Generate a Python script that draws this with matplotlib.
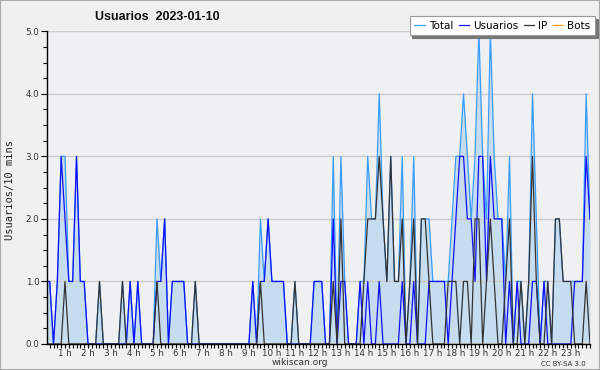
import numpy as np
import matplotlib
matplotlib.use("Agg")
import matplotlib.pyplot as plt
from matplotlib.patches import Rectangle
from matplotlib.ticker import MultipleLocator, FixedLocator, FormatStrFormatter

# Usuarios por intervalo de 10 minutos (144 valores, 2023-01-10)
usuarios = [1, 1, 1, 0, 1, 3, 2, 1, 1, 3, 1, 1,
            0, 0, 0, 0, 0, 0, 0, 0, 0, 0, 0, 1,
            0, 1, 0, 0, 0, 0, 1, 1, 2, 0, 1, 1,
            1, 1, 0, 0, 0, 0, 0, 0, 0, 0, 0, 0,
            0, 0, 0, 0, 0, 0, 0, 1, 0, 1, 1, 2,
            1, 1, 1, 1, 0, 0, 0, 0, 0, 0, 0, 1,
            1, 1, 0, 0, 2, 0, 1, 1, 0, 0, 0, 1,
            0, 1, 0, 0, 1, 0, 0, 0, 0, 0, 1, 0,
            0, 1, 0, 0, 0, 1, 1, 1, 1, 1, 0, 1,
            2, 3, 3, 2, 2, 1, 3, 3, 1, 3, 2, 2,
            2, 0, 1, 0, 1, 0, 0, 0, 1, 1, 0, 1,
            0, 0, 0, 0, 0, 0, 0, 1, 1, 1, 3, 2]
ip = [0, 0, 0, 0, 0, 0, 1, 0, 0, 0, 0, 0,
      0, 0, 0, 1, 0, 0, 0, 0, 0, 1, 0, 0,
      0, 0, 0, 0, 0, 0, 1, 0, 0, 0, 0, 0,
      0, 0, 0, 0, 1, 0, 0, 0, 0, 0, 0, 0,
      0, 0, 0, 0, 0, 0, 0, 0, 0, 1, 0, 0,
      0, 0, 0, 0, 0, 0, 1, 0, 0, 0, 0, 0,
      0, 0, 0, 0, 1, 0, 2, 0, 0, 0, 0, 0,
      1, 2, 2, 2, 3, 2, 1, 3, 1, 1, 2, 0,
      1, 2, 0, 2, 2, 1, 0, 0, 0, 0, 1, 1,
      1, 0, 1, 1, 0, 2, 2, 0, 1, 2, 1, 0,
      0, 1, 2, 0, 0, 1, 0, 1, 3, 1, 0, 0,
      1, 0, 2, 2, 1, 1, 1, 0, 0, 0, 1, 0]
bots = [0] * 144
total = [u + p + b for u, p, b in zip(usuarios, ip, bots)]

hour_labels = ["%d h" % h for h in range(1, 24)]

fig = plt.figure(figsize=(6.0, 3.7), dpi=100)
fig.patch.set_facecolor("#f0f0f0")
fig.patches.append(Rectangle((0, 0), 1, 1, transform=fig.transFigure,
                             fill=False, edgecolor="#aaaaaa", lw=1.5))

ax = fig.add_axes([0.0775, 0.0703, 0.9058, 0.8451])
ax.set_facecolor("#eef0f2")

x = np.arange(len(total))
ax.fill_between(x, total, 0, color="#c6dcef", lw=0, zorder=1)
ax.plot(x, total, color="#3a9cff", lw=0.9, zorder=3, label="Total")
ax.plot(x, usuarios, color="#1010ff", lw=0.9, zorder=4, label="Usuarios")
ax.plot(x, ip, color="#333333", lw=0.9, zorder=5, label="IP")
ax.plot(x, bots, color="#ff9900", lw=0.9, zorder=2, label="Bots")

ax.set_xlim(1.17, 143)
ax.set_ylim(0, 5)

ax.yaxis.set_major_locator(MultipleLocator(1))
ax.yaxis.set_minor_locator(MultipleLocator(0.25))
ax.yaxis.set_major_formatter(FormatStrFormatter("%.1f"))
ax.grid(axis="y", which="major", color="#cccccc", lw=1.0, zorder=0)

ax.xaxis.set_major_locator(FixedLocator([6 * h for h in range(1, 24)]))
ax.set_xticklabels(hour_labels)
ax.xaxis.set_minor_locator(MultipleLocator(1))

ax.tick_params(axis="both", which="both", direction="out", color="black",
               width=0.8, labelsize=6.3, labelcolor="#333333")
ax.tick_params(axis="y", which="major", length=4, pad=1)
ax.tick_params(axis="y", which="minor", length=3)
ax.tick_params(axis="x", which="both", length=3, pad=0.5)

for s in ["top", "right"]:
    ax.spines[s].set_visible(False)
for s in ["left", "bottom"]:
    ax.spines[s].set_color("black")
    ax.spines[s].set_linewidth(1.0)
    ax.spines[s].set_zorder(6)

fig.text(95 / 600, 1 - 17 / 370, "Usuarios  2023-01-10", fontsize=9,
         fontweight="bold", family="Liberation Sans", va="center",
         ha="left", color="#111111")
fig.text(10 / 600, 1 - 190 / 370, "Usuarios/10 mins", rotation=90,
         fontsize=7.5, family="DejaVu Sans Mono", va="center", ha="center",
         color="#222222")
fig.text(300 / 600, 1 - 362.5 / 370, "wikiscan.org", fontsize=6.5,
         va="center", ha="center", color="#333333")
fig.text(563 / 600, 1 - 364 / 370, "CC BY-SA 3.0", fontsize=5,
         va="center", ha="center", color="#333333")

leg = fig.legend(loc="upper right", bbox_to_anchor=(595 / 600, 1 - 16 / 370),
                 ncol=4, fontsize=7.5, frameon=True, fancybox=False,
                 shadow={"color": "#777777", "alpha": 1.0, "ox": 2, "oy": -2},
                 handlelength=1.0, handletextpad=0.4,
                 columnspacing=0.5, borderpad=0.45, borderaxespad=0)
leg.get_frame().set_edgecolor("#999999")
leg.get_frame().set_facecolor("white")
leg.get_frame().set_linewidth(0.8)

fig.savefig("out.png", dpi=100, facecolor=fig.get_facecolor())
